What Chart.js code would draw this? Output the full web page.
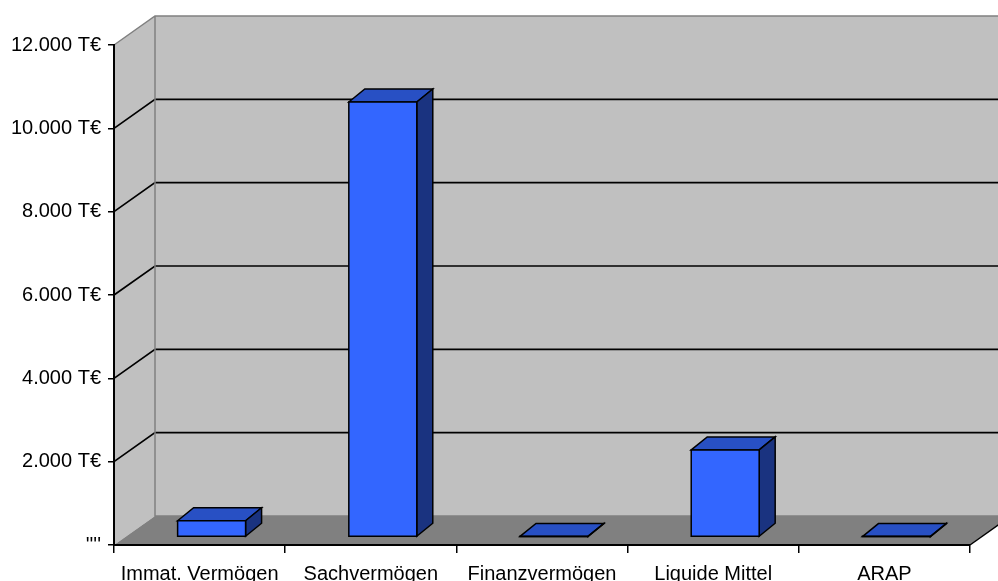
<!DOCTYPE html>
<html lang="de">
<head>
<meta charset="UTF-8">
<title>Vermögen</title>
<script src="https://cdn.jsdelivr.net/npm/chart.js"></script>
<style>
  body { margin: 0; background: #fff; }
  #wrap { width: 998px; height: 581px; }
</style>
</head>
<body>
<div id="wrap"><canvas id="vermoegenChart"></canvas></div>
<script>
// Kategorien und Werte (T€)
const categories = ['Immat. Vermögen', 'Sachvermögen', 'Finanzvermögen', 'Liquide Mittel', 'ARAP'];
const values = [390, 10440, 15, 2090, 10];
const yTicks = [0, 2000, 4000, 6000, 8000, 10000, 12000];

// Tiefe der 3D-Darstellung
const DX = 41, DY = 29;       // Wand / Boden
const FX = 12, FY = 8;        // Versatz Vorderseite Balken
const BX = 16, BY = 13;       // Balkentiefe

function poly(ctx, pts, fill, stroke, lw) {
    ctx.beginPath();
    ctx.moveTo(pts[0][0], pts[0][1]);
    for (let i = 1; i < pts.length; i++) ctx.lineTo(pts[i][0], pts[i][1]);
    ctx.closePath();
    if (fill) { ctx.fillStyle = fill; ctx.fill(); }
    if (stroke) { ctx.strokeStyle = stroke; ctx.lineWidth = lw || 1; ctx.stroke(); }
}

const box3d = {
    id: 'box3d',
    beforeDraw(chart) {
        const ctx = chart.ctx;
        const a = chart.chartArea;
        const ys = chart.scales.y;
        const farRight = chart.width + DX;
        ctx.save();
        // Rückwand
        ctx.fillStyle = '#c0c0c0';
        ctx.fillRect(a.left + DX, a.top - DY, farRight - a.left, a.bottom - a.top);
        // Seitenwand
        poly(ctx, [[a.left, a.top], [a.left + DX, a.top - DY], [a.left + DX, a.bottom - DY], [a.left, a.bottom]], '#c0c0c0');
        // Boden
        poly(ctx, [[a.left, a.bottom], [a.left + DX, a.bottom - DY], [a.right + DX, a.bottom - DY], [a.right, a.bottom]], '#808080');

        // Gitterlinien
        ctx.strokeStyle = '#000';
        ctx.lineWidth = 1.7;
        yTicks.forEach(v => {
            if (v <= ys.min || v >= ys.max) return;
            const y = ys.getPixelForValue(v);
            ctx.beginPath();
            ctx.moveTo(a.left, y);
            ctx.lineTo(a.left + DX, y - DY);
            ctx.lineTo(farRight, y - DY);
            ctx.stroke();
        });

        // graue Kanten
        ctx.strokeStyle = '#808080';
        ctx.lineWidth = 1.5;
        ctx.beginPath();
        ctx.moveTo(a.left, a.top);
        ctx.lineTo(a.left + DX, a.top - DY);
        ctx.lineTo(farRight, a.top - DY);
        ctx.moveTo(a.left + DX, a.top - DY);
        ctx.lineTo(a.left + DX, a.bottom - DY);
        ctx.lineTo(farRight, a.bottom - DY);
        ctx.stroke();

        // vordere rechte Bodenkante
        ctx.strokeStyle = '#000';
        ctx.beginPath();
        ctx.moveTo(a.right, a.bottom);
        ctx.lineTo(a.right + DX, a.bottom - DY);
        ctx.stroke();
        ctx.restore();
    },
    beforeDatasetsDraw(chart) {
        const ctx = chart.ctx;
        const meta = chart.getDatasetMeta(0);
        ctx.save();
        ctx.lineJoin = 'miter';
        meta.data.forEach(el => {
            const L = el.x - el.width / 2 + FX;
            const R = el.x + el.width / 2 + FX;
            const T = el.y - FY;
            const B = el.base - FY;
            poly(ctx, [[L, T], [L + BX, T - BY], [R + BX, T - BY], [R, T]], '#2850c4', '#000', 1.5);
            poly(ctx, [[R, T], [R + BX, T - BY], [R + BX, B - BY], [R, B]], '#1a3380', '#000', 1.5);
            poly(ctx, [[L, T], [R, T], [R, B], [L, B]], '#3366ff', '#000', 1.5);
        });
        ctx.restore();
        return false;
    }
};

const family = '"Liberation Sans", Arial, sans-serif';

new Chart(document.getElementById('vermoegenChart').getContext('2d'), {
    type: 'bar',
    data: {
        labels: categories,
        datasets: [{
            data: values,
            backgroundColor: '#3366ff',
            categoryPercentage: 1,
            barPercentage: 0.397
        }]
    },
    options: {
        responsive: true,
        maintainAspectRatio: false,
        animation: false,
        layout: { padding: { top: 45, right: 28, left: 0, bottom: 0 } },
        plugins: {
            legend: { display: false },
            tooltip: { enabled: false },
            title: { display: false }
        },
        scales: {
            x: {
                offset: true,
                grid: { offset: true, drawOnChartArea: false, drawTicks: true, tickLength: 8, color: '#000', lineWidth: 1.5 },
                border: { display: true, color: '#000', width: 2 },
                ticks: { color: '#000', font: { family, size: 20 }, autoSkip: false, maxRotation: 0, padding: 9 },
                afterFit(scale) { scale.height = 36; }
            },
            y: {
                min: 0,
                max: 12000,
                afterBuildTicks(scale) { scale.ticks = yTicks.map(v => ({ value: v })); },
                grid: { drawOnChartArea: false, drawTicks: true, tickLength: 6, color: '#000', lineWidth: 1.5 },
                border: { display: true, color: '#000', width: 2 },
                ticks: {
                    color: '#000',
                    font: { family, size: 20 },
                    padding: 7,
                    callback: v => v === 0 ? "''''" : v.toLocaleString('de-DE') + ' T€'
                },
                afterFit(scale) { scale.width = 114; }
            }
        }
    },
    plugins: [box3d]
});
</script>
</body>
</html>
